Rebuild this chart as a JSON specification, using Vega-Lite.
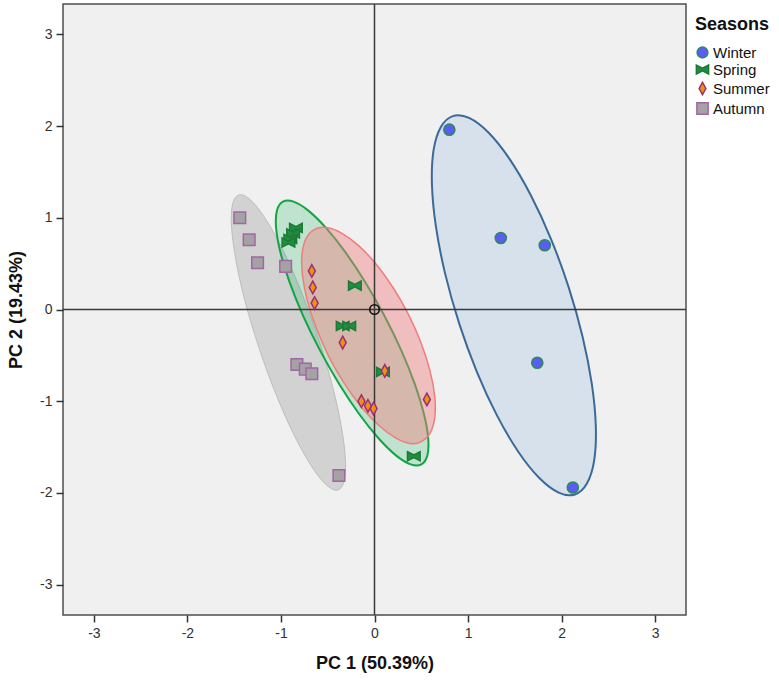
{
  "$schema": "https://vega.github.io/schema/vega-lite/v6.json",
  "width": 623,
  "height": 611,
  "autosize": "none",
  "padding": {"left": 63, "top": 4, "right": 93, "bottom": 67},
  "background": "white",
  "config": {
    "font": "Liberation Sans",
    "view": {"fill": "#f0f0f0", "stroke": "#4d4d4d", "strokeWidth": 1.5},
    "axis": {
      "grid": false,
      "domain": false,
      "tickColor": "#333333",
      "tickSize": 7,
      "tickWidth": 1.5,
      "labelFontSize": 14,
      "labelColor": "#333333",
      "labelPadding": 4,
      "titleFontSize": 18,
      "titleFontWeight": "bold",
      "titleColor": "#111111"
    }
  },
  "datasets": {
    "ellipse": [
      {"season": "Winter", "k": 0, "pc1": 2.143, "pc2": -2.016},
      {"season": "Winter", "k": 1, "pc1": 2.272, "pc2": -1.895},
      {"season": "Winter", "k": 2, "pc1": 2.349, "pc2": -1.642},
      {"season": "Winter", "k": 3, "pc1": 2.366, "pc2": -1.274},
      {"season": "Winter", "k": 4, "pc1": 2.324, "pc2": -0.816},
      {"season": "Winter", "k": 5, "pc1": 2.225, "pc2": -0.299},
      {"season": "Winter", "k": 6, "pc1": 2.076, "pc2": 0.241},
      {"season": "Winter", "k": 7, "pc1": 1.887, "pc2": 0.768},
      {"season": "Winter", "k": 8, "pc1": 1.671, "pc2": 1.246},
      {"season": "Winter", "k": 9, "pc1": 1.443, "pc2": 1.642},
      {"season": "Winter", "k": 10, "pc1": 1.218, "pc2": 1.929},
      {"season": "Winter", "k": 11, "pc1": 1.011, "pc2": 2.088},
      {"season": "Winter", "k": 12, "pc1": 0.837, "pc2": 2.108},
      {"season": "Winter", "k": 13, "pc1": 0.708, "pc2": 1.987},
      {"season": "Winter", "k": 14, "pc1": 0.631, "pc2": 1.734},
      {"season": "Winter", "k": 15, "pc1": 0.614, "pc2": 1.366},
      {"season": "Winter", "k": 16, "pc1": 0.656, "pc2": 0.908},
      {"season": "Winter", "k": 17, "pc1": 0.755, "pc2": 0.391},
      {"season": "Winter", "k": 18, "pc1": 0.904, "pc2": -0.149},
      {"season": "Winter", "k": 19, "pc1": 1.093, "pc2": -0.676},
      {"season": "Winter", "k": 20, "pc1": 1.309, "pc2": -1.154},
      {"season": "Winter", "k": 21, "pc1": 1.537, "pc2": -1.550},
      {"season": "Winter", "k": 22, "pc1": 1.762, "pc2": -1.837},
      {"season": "Winter", "k": 23, "pc1": 1.969, "pc2": -1.996},

      {"season": "Autumn", "k": 0, "pc1": -0.388, "pc2": -1.966},
      {"season": "Autumn", "k": 1, "pc1": -0.328, "pc2": -1.884},
      {"season": "Autumn", "k": 2, "pc1": -0.309, "pc2": -1.699},
      {"season": "Autumn", "k": 3, "pc1": -0.332, "pc2": -1.422},
      {"season": "Autumn", "k": 4, "pc1": -0.394, "pc2": -1.072},
      {"season": "Autumn", "k": 5, "pc1": -0.492, "pc2": -0.674},
      {"season": "Autumn", "k": 6, "pc1": -0.620, "pc2": -0.255},
      {"season": "Autumn", "k": 7, "pc1": -0.768, "pc2": 0.157},
      {"season": "Autumn", "k": 8, "pc1": -0.926, "pc2": 0.535},
      {"season": "Autumn", "k": 9, "pc1": -1.084, "pc2": 0.851},
      {"season": "Autumn", "k": 10, "pc1": -1.231, "pc2": 1.085},
      {"season": "Autumn", "k": 11, "pc1": -1.356, "pc2": 1.220},
      {"season": "Autumn", "k": 12, "pc1": -1.452, "pc2": 1.248},
      {"season": "Autumn", "k": 13, "pc1": -1.512, "pc2": 1.166},
      {"season": "Autumn", "k": 14, "pc1": -1.531, "pc2": 0.981},
      {"season": "Autumn", "k": 15, "pc1": -1.508, "pc2": 0.704},
      {"season": "Autumn", "k": 16, "pc1": -1.446, "pc2": 0.354},
      {"season": "Autumn", "k": 17, "pc1": -1.348, "pc2": -0.044},
      {"season": "Autumn", "k": 18, "pc1": -1.220, "pc2": -0.463},
      {"season": "Autumn", "k": 19, "pc1": -1.072, "pc2": -0.875},
      {"season": "Autumn", "k": 20, "pc1": -0.914, "pc2": -1.253},
      {"season": "Autumn", "k": 21, "pc1": -0.756, "pc2": -1.569},
      {"season": "Autumn", "k": 22, "pc1": -0.609, "pc2": -1.803},
      {"season": "Autumn", "k": 23, "pc1": -0.484, "pc2": -1.938},

      {"season": "Spring", "k": 0, "pc1": 0.501, "pc2": -1.688},
      {"season": "Spring", "k": 1, "pc1": 0.565, "pc2": -1.591},
      {"season": "Spring", "k": 2, "pc1": 0.574, "pc2": -1.403},
      {"season": "Spring", "k": 3, "pc1": 0.528, "pc2": -1.136},
      {"season": "Spring", "k": 4, "pc1": 0.430, "pc2": -0.810},
      {"season": "Spring", "k": 5, "pc1": 0.286, "pc2": -0.446},
      {"season": "Spring", "k": 6, "pc1": 0.106, "pc2": -0.069},
      {"season": "Spring", "k": 7, "pc1": -0.097, "pc2": 0.295},
      {"season": "Spring", "k": 8, "pc1": -0.310, "pc2": 0.622},
      {"season": "Spring", "k": 9, "pc1": -0.518, "pc2": 0.889},
      {"season": "Spring", "k": 10, "pc1": -0.707, "pc2": 1.078},
      {"season": "Spring", "k": 11, "pc1": -0.865, "pc2": 1.176},
      {"season": "Spring", "k": 12, "pc1": -0.979, "pc2": 1.176},
      {"season": "Spring", "k": 13, "pc1": -1.043, "pc2": 1.079},
      {"season": "Spring", "k": 14, "pc1": -1.052, "pc2": 0.891},
      {"season": "Spring", "k": 15, "pc1": -1.006, "pc2": 0.624},
      {"season": "Spring", "k": 16, "pc1": -0.908, "pc2": 0.298},
      {"season": "Spring", "k": 17, "pc1": -0.764, "pc2": -0.066},
      {"season": "Spring", "k": 18, "pc1": -0.584, "pc2": -0.443},
      {"season": "Spring", "k": 19, "pc1": -0.381, "pc2": -0.807},
      {"season": "Spring", "k": 20, "pc1": -0.168, "pc2": -1.134},
      {"season": "Spring", "k": 21, "pc1": 0.040, "pc2": -1.401},
      {"season": "Spring", "k": 22, "pc1": 0.229, "pc2": -1.590},
      {"season": "Spring", "k": 23, "pc1": 0.387, "pc2": -1.688},

      {"season": "Summer", "k": 0, "pc1": 0.500, "pc2": -1.440},
      {"season": "Summer", "k": 1, "pc1": 0.596, "pc2": -1.344},
      {"season": "Summer", "k": 2, "pc1": 0.645, "pc2": -1.172},
      {"season": "Summer", "k": 3, "pc1": 0.643, "pc2": -0.940},
      {"season": "Summer", "k": 4, "pc1": 0.592, "pc2": -0.664},
      {"season": "Summer", "k": 5, "pc1": 0.497, "pc2": -0.362},
      {"season": "Summer", "k": 6, "pc1": 0.364, "pc2": -0.055},
      {"season": "Summer", "k": 7, "pc1": 0.199, "pc2": 0.237},
      {"season": "Summer", "k": 8, "pc1": 0.018, "pc2": 0.493},
      {"season": "Summer", "k": 9, "pc1": -0.170, "pc2": 0.696},
      {"season": "Summer", "k": 10, "pc1": -0.352, "pc2": 0.833},
      {"season": "Summer", "k": 11, "pc1": -0.513, "pc2": 0.893},
      {"season": "Summer", "k": 12, "pc1": -0.641, "pc2": 0.874},
      {"season": "Summer", "k": 13, "pc1": -0.731, "pc2": 0.776},
      {"season": "Summer", "k": 14, "pc1": -0.775, "pc2": 0.605},
      {"season": "Summer", "k": 15, "pc1": -0.770, "pc2": 0.373},
      {"season": "Summer", "k": 16, "pc1": -0.718, "pc2": 0.097},
      {"season": "Summer", "k": 17, "pc1": -0.621, "pc2": -0.205},
      {"season": "Summer", "k": 18, "pc1": -0.488, "pc2": -0.513},
      {"season": "Summer", "k": 19, "pc1": -0.323, "pc2": -0.806},
      {"season": "Summer", "k": 20, "pc1": -0.141, "pc2": -1.062},
      {"season": "Summer", "k": 21, "pc1": 0.047, "pc2": -1.265},
      {"season": "Summer", "k": 22, "pc1": 0.229, "pc2": -1.402},
      {"season": "Summer", "k": 23, "pc1": 0.391, "pc2": -1.463}
    ],
    "obs": [
      {"season": "Winter", "pc1": 0.80, "pc2": 1.96},
      {"season": "Winter", "pc1": 1.35, "pc2": 0.78},
      {"season": "Winter", "pc1": 1.82, "pc2": 0.70},
      {"season": "Winter", "pc1": 1.74, "pc2": -0.58},
      {"season": "Winter", "pc1": 2.12, "pc2": -1.94},
      {"season": "Spring", "pc1": -0.84, "pc2": 0.89},
      {"season": "Spring", "pc1": -0.87, "pc2": 0.83},
      {"season": "Spring", "pc1": -0.90, "pc2": 0.77},
      {"season": "Spring", "pc1": -0.92, "pc2": 0.73},
      {"season": "Spring", "pc1": -0.21, "pc2": 0.26},
      {"season": "Spring", "pc1": -0.34, "pc2": -0.18},
      {"season": "Spring", "pc1": -0.27, "pc2": -0.18},
      {"season": "Spring", "pc1": 0.09, "pc2": -0.68},
      {"season": "Spring", "pc1": 0.42, "pc2": -1.60},
      {"season": "Summer", "pc1": -0.67, "pc2": 0.42},
      {"season": "Summer", "pc1": -0.66, "pc2": 0.24},
      {"season": "Summer", "pc1": -0.64, "pc2": 0.07},
      {"season": "Summer", "pc1": -0.34, "pc2": -0.36},
      {"season": "Summer", "pc1": 0.11, "pc2": -0.67},
      {"season": "Summer", "pc1": -0.14, "pc2": -1.00},
      {"season": "Summer", "pc1": -0.07, "pc2": -1.05},
      {"season": "Summer", "pc1": -0.01, "pc2": -1.08},
      {"season": "Summer", "pc1": 0.56, "pc2": -0.98},
      {"season": "Autumn", "pc1": -1.44, "pc2": 1.00},
      {"season": "Autumn", "pc1": -1.34, "pc2": 0.76},
      {"season": "Autumn", "pc1": -1.25, "pc2": 0.51},
      {"season": "Autumn", "pc1": -0.95, "pc2": 0.47},
      {"season": "Autumn", "pc1": -0.83, "pc2": -0.60},
      {"season": "Autumn", "pc1": -0.74, "pc2": -0.65},
      {"season": "Autumn", "pc1": -0.67, "pc2": -0.70},
      {"season": "Autumn", "pc1": -0.38, "pc2": -1.81}
    ]
  },
  "layer": [
    {
      "data": {"name": "ellipse"},
      "transform": [{"filter": "datum.season === 'Winter'"}],
      "mark": {"type": "line", "interpolate": "cardinal-closed", "fill": "#8fb8dc", "fillOpacity": 0.27, "stroke": "#3b6a99", "strokeWidth": 2},
      "encoding": {
        "x": {
          "field": "pc1",
          "type": "quantitative",
          "scale": {"domain": [-3.33, 3.33], "nice": false, "zero": false},
          "axis": {
            "title": "PC 1 (50.39%)",
            "values": [-3, -2, -1, 0, 1, 2, 3],
            "labelExpr": "datum.value < 0 ? '-' + abs(datum.value) : '' + datum.value",
            "titlePadding": 14
          }
        },
        "y": {
          "field": "pc2",
          "type": "quantitative",
          "scale": {"domain": [-3.33, 3.33], "nice": false, "zero": false},
          "axis": {
            "title": "PC 2 (19.43%)",
            "values": [-3, -2, -1, 0, 1, 2, 3],
            "labelExpr": "datum.value < 0 ? '-' + abs(datum.value) : '' + datum.value",
            "titlePadding": 14
          }
        },
        "order": {"field": "k", "type": "quantitative"}
      }
    },
    {
      "data": {"name": "ellipse"},
      "transform": [{"filter": "datum.season === 'Autumn'"}],
      "mark": {"type": "line", "interpolate": "cardinal-closed", "fill": "#a6a6a6", "fillOpacity": 0.4, "stroke": "#bdbdbd", "strokeWidth": 1},
      "encoding": {
        "x": {"field": "pc1", "type": "quantitative"},
        "y": {"field": "pc2", "type": "quantitative"},
        "order": {"field": "k", "type": "quantitative"}
      }
    },
    {
      "data": {"name": "ellipse"},
      "transform": [{"filter": "datum.season === 'Spring'"}],
      "mark": {"type": "line", "interpolate": "cardinal-closed", "fill": "#00b050", "fillOpacity": 0.2, "stroke": "#13a444", "strokeWidth": 2},
      "encoding": {
        "x": {"field": "pc1", "type": "quantitative"},
        "y": {"field": "pc2", "type": "quantitative"},
        "order": {"field": "k", "type": "quantitative"}
      }
    },
    {
      "data": {"name": "ellipse"},
      "transform": [{"filter": "datum.season === 'Summer'"}],
      "mark": {"type": "line", "interpolate": "cardinal-closed", "fill": "#f08080", "fillOpacity": 0.45, "stroke": "#f07c7c", "strokeWidth": 1.5},
      "encoding": {
        "x": {"field": "pc1", "type": "quantitative"},
        "y": {"field": "pc2", "type": "quantitative"},
        "order": {"field": "k", "type": "quantitative"}
      }
    },
    {
      "data": {"values": [{"pc1": 0}]},
      "mark": {"type": "rule", "color": "#3a3a3a", "strokeWidth": 1.5},
      "encoding": {"x": {"field": "pc1", "type": "quantitative"}}
    },
    {
      "data": {"values": [{"pc2": 0}]},
      "mark": {"type": "rule", "color": "#3a3a3a", "strokeWidth": 1.5},
      "encoding": {"y": {"field": "pc2", "type": "quantitative"}}
    },
    {
      "data": {"name": "obs"},
      "mark": {"type": "point", "filled": true, "strokeWidth": 1.5, "opacity": 1, "size": 160},
      "encoding": {
        "x": {"field": "pc1", "type": "quantitative"},
        "y": {"field": "pc2", "type": "quantitative"},
        "shape": {
          "field": "season",
          "type": "nominal",
          "title": "Seasons",
          "sort": ["Winter", "Spring", "Summer", "Autumn"],
          "scale": {
            "domain": ["Winter", "Spring", "Summer", "Autumn"],
            "range": [
              "M-0.88,0A0.88,0.88 0 1,0 0.88,0A0.88,0.88 0 1,0 -0.88,0Z",
              "M-1,-0.72L0,-0.2L1,-0.72L1,0.72L0,0.2L-1,0.72Z",
              "M0,-1L0.55,0L0,1L-0.55,0Z",
              "M-0.92,-0.92L0.92,-0.92L0.92,0.92L-0.92,0.92Z"
            ]
          },
          "legend": {
            "orient": "none",
            "legendX": 632,
            "legendY": 12,
            "titleFontSize": 18,
            "titleFontWeight": "bold",
            "titleColor": "#111111",
            "titlePadding": 11,
            "labelFontSize": 15,
            "labelColor": "#111111",
            "labelOffset": 3,
            "symbolSize": 150,
            "symbolStrokeWidth": 1.5,
            "rowPadding": 1
          }
        },
        "fill": {
          "field": "season",
          "type": "nominal",
          "title": "Seasons",
          "scale": {
            "domain": ["Winter", "Spring", "Summer", "Autumn"],
            "range": ["#5b5bf5", "#1f8f3f", "#f0920c", "#a3a3a3"]
          }
        },
        "stroke": {
          "field": "season",
          "type": "nominal",
          "title": "Seasons",
          "scale": {
            "domain": ["Winter", "Spring", "Summer", "Autumn"],
            "range": ["#2f8a5a", "#1c7a36", "#9a2f78", "#a465a6"]
          }
        }
      }
    },
    {
      "data": {"values": [{"pc1": 0, "pc2": 0}]},
      "mark": {"type": "point", "shape": "circle", "size": 90, "filled": false, "stroke": "#111111", "strokeWidth": 1.6, "opacity": 1},
      "encoding": {
        "x": {"field": "pc1", "type": "quantitative"},
        "y": {"field": "pc2", "type": "quantitative"}
      }
    }
  ]
}
